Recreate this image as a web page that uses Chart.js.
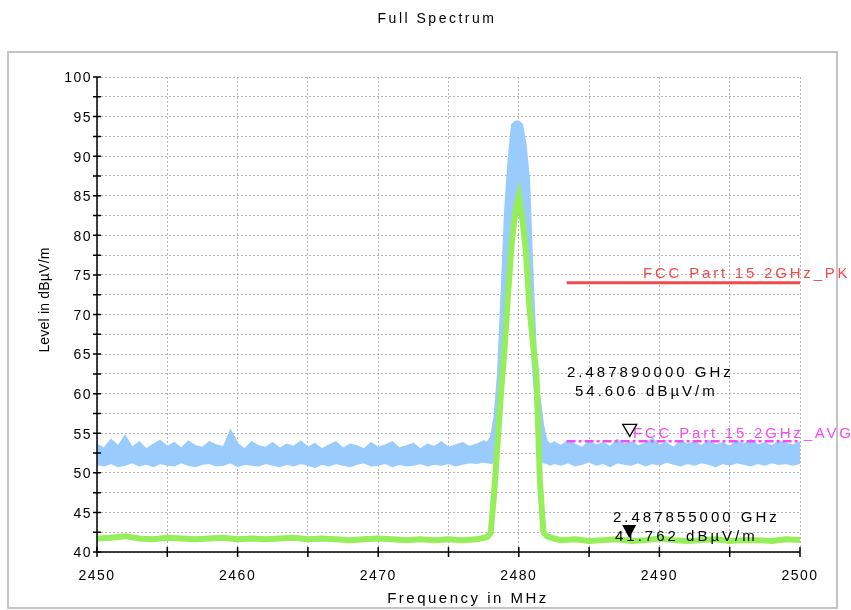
<!DOCTYPE html>
<html>
<head>
<meta charset="utf-8">
<title>Full Spectrum</title>
<script src="https://cdn.jsdelivr.net/npm/chart.js@4/dist/chart.umd.min.js"></script>
<style>
  html, body { margin: 0; padding: 0; background: #fff; }
  #chart { display: block; }
</style>
</head>
<body>
<canvas id="chart" width="851" height="610"></canvas>
<script>
// ---- data ----
const blueFreq = [
    2450, 2450.5, 2451, 2451.5, 2452, 2452.5, 2453, 2453.5, 2454, 2454.5,
    2455, 2455.5, 2456, 2456.5, 2457, 2457.5, 2458, 2458.5, 2459, 2459.5,
    2460, 2460.5, 2461, 2461.5, 2462, 2462.5, 2463, 2463.5, 2464, 2464.5,
    2465, 2465.5, 2466, 2466.5, 2467, 2467.5, 2468, 2468.5, 2469, 2469.5,
    2470, 2470.5, 2471, 2471.5, 2472, 2472.5, 2473, 2473.5, 2474, 2474.5,
    2475, 2475.5, 2476, 2476.5, 2477, 2477.5,
    2477.75, 2478, 2478.25, 2478.5, 2478.75, 2479, 2479.25, 2479.5, 2479.75, 2480,
    2480.25, 2480.5, 2480.75, 2481, 2481.25, 2481.5, 2481.75, 2482, 2482.25,
    2482.5, 2483, 2483.5, 2484, 2484.5, 2485, 2485.5, 2486, 2486.5, 2487,
    2487.5, 2488, 2488.5, 2489, 2489.5, 2490, 2490.5, 2491, 2491.5, 2492,
    2492.5, 2493, 2493.5, 2494, 2494.5, 2495, 2495.5, 2496, 2496.5, 2497,
    2497.5, 2498, 2498.5, 2499, 2499.5, 2500
];
// peak trace, upper edge of the noisy band
const blueUpper = [
    53.6, 53.1, 54.2, 53.4, 54.7, 53.2, 53.9, 53.0, 53.6, 54.1,
    53.3, 53.8, 53.1, 54.0, 53.4, 53.2, 53.9, 53.5, 53.3, 55.4,
    53.7, 53.0, 53.9, 53.4, 53.2, 53.8, 53.1, 53.6, 53.3, 54.0,
    53.2, 53.7, 53.0, 53.5, 53.9, 53.1, 53.6, 53.4, 53.0, 53.8,
    53.2, 53.5, 53.9, 53.1, 53.4, 53.7, 53.0, 53.6, 53.3, 53.9,
    53.2, 53.5, 53.8, 53.3, 53.6, 54.0,
    53.8, 54.5, 57, 62.5, 72.5, 83, 89.5, 94, 94.4, 94.4,
    94, 91.5, 87, 75, 64.5, 59.5, 56, 54, 53.6,
    53.9, 53.4, 54.1, 53.6, 53.2, 54.0, 53.5, 53.8, 53.3, 54.2,
    53.6, 53.9, 53.4, 53.7, 54.3, 53.5, 53.8, 53.2, 54.0, 53.6,
    53.9, 53.4, 54.1, 53.5, 53.8, 53.3, 54.0, 53.6, 54.2, 53.5,
    53.8, 53.4, 54.0, 53.7, 53.5, 53.9
];
// peak trace, lower edge of the noisy band
const blueLower = [
    51.1, 50.9, 51.2, 50.8, 51.0, 51.3, 50.9, 51.1, 50.8, 51.2,
    51.0, 50.9, 51.3, 51.0, 50.8, 51.1, 51.2, 50.9, 51.0, 51.3,
    50.8, 51.1, 51.0, 50.9, 51.2, 51.0, 50.8, 51.1, 50.9, 51.2,
    51.0, 50.7, 51.1, 50.9, 51.2, 51.0, 50.8, 51.1, 51.3, 50.9,
    51.0, 51.2, 50.8, 51.1, 50.9, 51.0, 51.2, 50.9, 51.1, 51.0,
    51.2, 50.9, 51.1, 51.3, 51.2, 51.4,
    51.3, 51.2, 51.3, 53, 59, 65, 72, 78, 82.5, 84.5,
    82, 77, 70, 63, 57, 52, 51.3, 51.2, 51.0,
    51.2, 51.0, 51.3, 50.9, 51.1, 51.4, 51.0, 51.2, 50.8, 51.3,
    51.1, 51.0, 51.3, 50.9, 51.2, 51.0, 51.4, 51.1, 50.9, 51.2,
    51.0, 51.3, 51.1, 50.8, 51.2, 51.0, 51.3, 51.1, 50.9, 51.2,
    51.0, 51.3, 51.1, 51.2, 51.0, 51.2
];

// average trace
const greenFreq = [
    2450, 2451, 2452, 2453, 2454, 2455, 2456, 2457, 2458, 2459,
    2460, 2461, 2462, 2463, 2464, 2465, 2466, 2467, 2468, 2469,
    2470, 2471, 2472, 2473, 2474, 2475, 2476, 2477,
    2477.5, 2477.75, 2478, 2478.25, 2478.5, 2478.75, 2479, 2479.25, 2479.5, 2479.75,
    2480, 2480.25, 2480.5, 2480.75, 2481, 2481.25, 2481.5, 2481.75, 2482, 2482.5,
    2483, 2484, 2485, 2486, 2487, 2488, 2489, 2490, 2491,
    2492, 2493, 2494, 2495, 2496, 2497, 2498, 2499, 2500
];
const greenLevel = [
    41.7, 41.8, 42.0, 41.7, 41.6, 41.8, 41.7, 41.6, 41.7, 41.8,
    41.6, 41.7, 41.6, 41.7, 41.8, 41.6, 41.7, 41.6, 41.5, 41.6,
    41.7, 41.6, 41.5, 41.6, 41.5, 41.6, 41.5, 41.6,
    41.8, 41.9, 42.4, 47.5, 54, 60.5, 66, 73, 79, 83,
    84.9, 82, 78, 71, 66.5, 62.5, 49, 42.5, 42.0, 41.7,
    41.5, 41.6, 41.4, 41.5, 41.6, 41.4, 41.5, 41.7, 41.5,
    41.4, 41.5, 41.6, 41.4, 41.5, 41.5, 41.4, 41.6, 41.5
];

// limit lines
const limitFreq = [2483.4, 2500];
const pkLimit = [74, 74];
const avgLimit = [54, 54];
const pkLabel = 'FCC Part 15 2GHz_PK';
const avgLabel = 'FCC Part 15 2GHz_AVG';

// markers: [frequency MHz, level, GHz text, level text]
const markerPk = [2487.89, 54.606, '2.487890000 GHz', '54.606 dBµV/m'];
const markerAv = [2487.855, 41.762, '2.487855000 GHz', '41.762 dBµV/m'];

const xTicks = [2450, 2460, 2470, 2480, 2490, 2500];
const yTicks = [40, 45, 50, 55, 60, 65, 70, 75, 80, 85, 90, 95, 100];

function pts(xs, ys) {
    return xs.map((x, i) => ({ x: x, y: ys[i] }));
}

const FONT = '"Liberation Sans", Arial, sans-serif';

function spacedText(ctx, text, x, y, size, spacing, color, align) {
    ctx.save();
    ctx.font = size + 'px ' + FONT;
    ctx.letterSpacing = spacing + 'px';
    ctx.fillStyle = color;
    ctx.textAlign = align || 'left';
    ctx.textBaseline = 'middle';
    ctx.fillText(text, x, y);
    ctx.restore();
}

// frame, axes, crossing ticks, title, labels and markers
const decorPlugin = {
    id: 'decor',
    beforeDraw(chart) {
        const ctx = chart.ctx;
        ctx.save();
        ctx.strokeStyle = '#c4c4c4';
        ctx.lineWidth = 2;
        ctx.strokeRect(8, 52, 829, 556);
        ctx.restore();
        spacedText(ctx, 'Full Spectrum', 437, 19, 14, 2.5, '#000', 'center');
        // tick labels drawn by Chart.js pick this up
        ctx.letterSpacing = '1.5px';
    },
    afterDatasetsDraw(chart) {
        const ctx = chart.ctx;
        const xs = chart.scales.x, ys = chart.scales.y;
        const a = chart.chartArea;

        // limit labels
        spacedText(ctx, pkLabel, 643, ys.getPixelForValue(pkLimit[0]) - 9, 15, 2.8, '#f04a4a');
        spacedText(ctx, avgLabel, 633, ys.getPixelForValue(avgLimit[0]) - 7, 15, 2.8, '#f64af6');

        // axes
        ctx.save();
        ctx.strokeStyle = '#000';
        ctx.lineWidth = 1.5;
        ctx.beginPath();
        ctx.moveTo(a.left, a.top);
        ctx.lineTo(a.left, a.bottom);
        ctx.lineTo(a.right, a.bottom);
        ctx.stroke();
        ctx.beginPath();
        for (let v = ys.min; v <= ys.max; v += 2.5) {
            const py = ys.getPixelForValue(v);
            ctx.moveTo(a.left - 4, py);
            ctx.lineTo(a.left + 4, py);
        }
        for (let v = xs.min; v <= xs.max; v += 5) {
            const px = xs.getPixelForValue(v);
            ctx.moveTo(px, a.bottom - 5);
            ctx.lineTo(px, a.bottom + 5);
        }
        ctx.stroke();
        ctx.restore();

        // markers
        const m1x = xs.getPixelForValue(markerPk[0]);
        const m1y = ys.getPixelForValue(markerPk[1]);
        ctx.save();
        ctx.strokeStyle = '#000';
        ctx.lineWidth = 1.3;
        ctx.fillStyle = '#fff';
        ctx.beginPath();
        ctx.moveTo(m1x, m1y);
        ctx.lineTo(m1x - 7, m1y - 12);
        ctx.lineTo(m1x + 7, m1y - 12);
        ctx.closePath();
        ctx.fill();
        ctx.stroke();
        const m2x = xs.getPixelForValue(markerAv[0]);
        const m2y = ys.getPixelForValue(markerAv[1]);
        ctx.fillStyle = '#000';
        ctx.beginPath();
        ctx.moveTo(m2x, m2y);
        ctx.lineTo(m2x - 7, m2y - 13);
        ctx.lineTo(m2x + 7, m2y - 13);
        ctx.closePath();
        ctx.fill();
        ctx.restore();

        spacedText(ctx, markerPk[2], 567, 373, 15, 3, '#000');
        spacedText(ctx, markerPk[3], 575, 392, 15, 3, '#000');
        spacedText(ctx, markerAv[2], 613, 518, 15, 3, '#000');
        spacedText(ctx, markerAv[3], 615, 537, 15, 3, '#000');

        // axis titles
        spacedText(ctx, 'Frequency in MHz', 468, 599, 15, 2.5, '#000', 'center');
        ctx.save();
        ctx.translate(45, 300);
        ctx.rotate(-Math.PI / 2);
        spacedText(ctx, 'Level in dBµV/m', 0, 0, 14, 0.2, '#000', 'center');
        ctx.restore();
    }
};

const ctx = document.getElementById('chart');
new Chart(ctx, {
    type: 'line',
    data: {
        datasets: [
            {
                label: 'Average',
                data: pts(greenFreq, greenLevel),
                borderColor: 'rgb(150, 238, 90)',
                borderWidth: 6,
                pointRadius: 0,
                fill: false
            },
            {
                label: pkLabel,
                data: pts(limitFreq, pkLimit),
                borderColor: 'rgb(240, 74, 74)',
                borderWidth: 3,
                pointRadius: 0,
                fill: false
            },
            {
                label: avgLabel,
                data: pts(limitFreq, avgLimit),
                borderColor: 'rgb(246, 74, 246)',
                borderWidth: 2.5,
                borderDash: [9, 3, 3, 3],
                pointRadius: 0,
                fill: false
            },
            {
                label: 'Peak max',
                data: pts(blueFreq, blueUpper),
                borderColor: 'rgb(153, 204, 252)',
                backgroundColor: 'rgb(153, 204, 252)',
                borderWidth: 1.5,
                pointRadius: 0,
                fill: '+1'
            },
            {
                label: 'Peak min',
                data: pts(blueFreq, blueLower),
                borderColor: 'rgb(153, 204, 252)',
                borderWidth: 1.5,
                pointRadius: 0,
                fill: false
            }
        ]
    },
    options: {
        responsive: false,
        animation: false,
        layout: { padding: { left: 0, top: 77, right: 51, bottom: 0 } },
        plugins: {
            legend: { display: false },
            title: { display: false },
            tooltip: { enabled: false }
        },
        scales: {
            x: {
                type: 'linear',
                min: 2450,
                max: 2500,
                afterFit: (s) => { s.height = 58; },
                afterBuildTicks: (s) => {
                    s.ticks = [];
                    for (let v = 2450; v <= 2500; v += 5) s.ticks.push({ value: v });
                },
                ticks: {
                    padding: 16,
                    color: '#000',
                    font: { family: FONT, size: 14 },
                    maxRotation: 0,
                    autoSkip: false,
                    callback: (v) => xTicks.includes(v) ? String(v) : ''
                },
                grid: { color: '#b4b4b4', lineWidth: 1, drawTicks: false },
                border: { display: false, dash: [2, 2] }
            },
            y: {
                min: 40,
                max: 100,
                afterFit: (s) => { s.width = 97; },
                afterBuildTicks: (s) => {
                    s.ticks = [];
                    for (let v = 40; v <= 100; v += 2.5) s.ticks.push({ value: v });
                },
                ticks: {
                    padding: 5,
                    labelOffset: 1.5,
                    color: '#000',
                    font: { family: FONT, size: 14 },
                    autoSkip: false,
                    callback: (v) => yTicks.includes(v) ? String(v) : ''
                },
                grid: { color: '#b4b4b4', lineWidth: 1, drawTicks: false },
                border: { display: false, dash: [2, 2] }
            }
        }
    },
    plugins: [decorPlugin]
});
</script>
</body>
</html>
